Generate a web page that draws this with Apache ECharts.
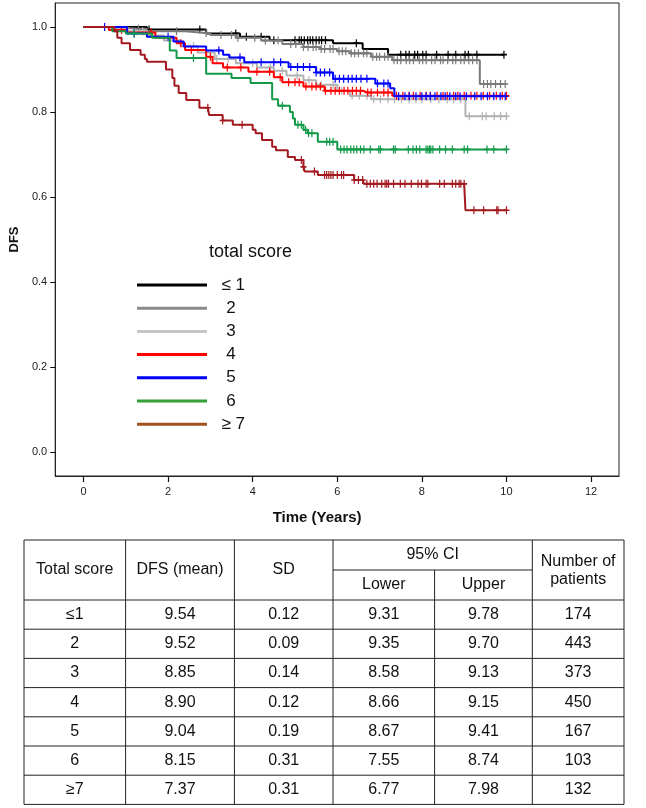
<!DOCTYPE html>
<html><head><meta charset="utf-8">
<script src="https://cdn.jsdelivr.net/npm/echarts@6/dist/echarts.min.js"></script>
<style>html,body{margin:0;padding:0;background:#fff}#c{width:646px;height:808px}</style>
</head><body><div id="c"></div>
<script>
// ---------- DATA ----------
const groupNames = ['≤ 1', '2', '3', '4', '5', '6', '≥ 7'];
const xTickValues = [0, 2, 4, 6, 8, 10, 12];
const yTickValues = [0, 0.2, 0.4, 0.6, 0.8, 1.0];

// Kaplan-Meier steps: [time (years), survival after the drop]
const stepsLe1 = [[0,1],[1.5,0.994],[2.9,0.985],[3.7,0.977],[4.4,0.969],[5.9,0.962],[6.6,0.948],[7.2,0.935]];
const steps2 = [[0,1],[0.6,0.996],[1.5,0.99],[2.4,0.986],[3.0,0.981],[3.6,0.975],[4.2,0.968],[4.7,0.96],[5.2,0.953],[5.6,0.948],[6.0,0.943],[6.3,0.938],[6.8,0.93],[7.3,0.922],[9.37,0.866]];
const steps3 = [[0,1],[0.5,0.996],[1.0,0.99],[1.5,0.98],[1.9,0.968],[2.3,0.955],[2.7,0.94],[3.1,0.925],[3.6,0.915],[4.1,0.905],[4.5,0.897],[4.8,0.886],[5.2,0.875],[5.5,0.864],[6.0,0.85],[6.3,0.838],[6.8,0.83],[9.03,0.79]];
const steps4 = [[0,1],[0.6,0.993],[1.0,0.987],[1.7,0.975],[2.2,0.962],[2.4,0.946],[2.9,0.93],[3.05,0.915],[3.3,0.905],[3.9,0.895],[4.5,0.882],[4.7,0.87],[5.2,0.86],[5.7,0.85],[6.6,0.846],[7.3,0.838]];
const steps5 = [[0,1],[1.03,0.985],[1.5,0.977],[2.13,0.966],[2.37,0.954],[2.9,0.945],[3.3,0.935],[3.45,0.928],[3.8,0.917],[4.85,0.906],[5.5,0.893],[5.9,0.878],[6.9,0.867],[7.25,0.856],[7.35,0.837]];
const steps6 = [[0,1],[0.68,0.99],[1.0,0.985],[1.62,0.975],[2.04,0.945],[2.2,0.927],[2.9,0.89],[3.5,0.88],[3.95,0.868],[4.46,0.83],[4.6,0.815],[4.88,0.8],[4.95,0.785],[5.0,0.77],[5.2,0.758],[5.3,0.75],[5.54,0.73],[6.0,0.712]];
const stepsGe7 = [[0,1],[0.73,0.99],[0.8,0.975],[0.9,0.962],[1.1,0.946],[1.35,0.935],[1.45,0.925],[1.5,0.918],[1.95,0.9],[2.1,0.88],[2.15,0.862],[2.25,0.845],[2.43,0.828],[2.74,0.81],[2.97,0.793],[3.29,0.78],[3.53,0.77],[4.0,0.758],[4.07,0.75],[4.22,0.734],[4.46,0.718],[4.55,0.71],[4.83,0.694],[5.0,0.687],[5.2,0.671],[5.23,0.66],[5.54,0.652],[6.4,0.64],[6.63,0.631],[9.03,0.569]];

// censored observations (time in years)
const censorLe1 = [1.55,2.75,3.6,3.85,4.2,4.5,5.0,5.1,5.15,5.22,5.3,5.36,5.42,5.5,5.57,5.63,5.72,6.45,7.5,7.62,7.7,7.83,7.9,8.02,8.1,8.35,8.62,8.8,9.02,9.1,9.3,9.94];
const censor2 = [1.3,2.2,2.9,3.25,3.5,3.65,4.05,4.3,4.6,4.9,5.02,5.2,5.31,5.43,5.5,5.62,5.7,5.83,5.9,6.04,6.12,6.2,6.33,6.41,6.5,6.62,6.7,6.84,6.93,7.0,7.12,7.2,7.34,7.42,7.5,7.63,7.71,7.8,7.94,8.02,8.1,8.23,8.31,8.44,8.5,8.61,8.73,8.8,8.92,9.0,9.11,9.2,9.3,9.46,9.55,9.63,9.74,9.86,9.97];
const censor3 = [1.05,1.4,2.6,3.15,3.42,4.0,4.42,4.7,5.05,5.33,5.62,5.9,6.1,6.35,6.52,6.7,6.86,7.02,7.2,7.35,7.52,7.7,7.86,8.0,8.21,8.4,8.6,8.75,8.92,9.12,9.43,9.52,9.71,9.86,10.0];
const censor4 = [0.9,1.6,2.3,2.55,3.0,3.4,3.72,4.1,4.4,4.65,4.85,5.0,5.1,5.26,5.4,5.5,5.6,5.72,5.85,5.95,6.05,6.16,6.25,6.36,6.45,6.55,6.72,6.8,6.95,7.1,7.2,7.4,7.55,7.7,7.8,7.96,8.1,8.2,8.36,8.5,8.6,8.75,8.85,9.0,9.16,9.3,9.45,9.6,9.76,9.9,10.0];
const censor5 = [0.5,1.2,2.0,3.2,3.7,4.2,4.5,4.66,4.9,5.06,5.2,5.35,5.5,5.6,5.7,5.82,5.95,6.05,6.15,6.26,6.35,6.45,6.56,6.7,6.95,7.1,7.2,7.45,7.6,7.7,7.86,8.0,8.1,8.2,8.31,8.45,8.55,8.66,8.8,8.9,9.05,9.25,9.4,9.55,9.7,9.85,9.97];
const censor6 = [1.2,2.6,4.7,5.07,5.15,5.25,5.32,5.4,5.75,5.82,5.9,6.08,6.16,6.23,6.32,6.39,6.46,6.55,6.63,6.78,6.98,7.02,7.33,7.37,7.68,7.79,7.87,7.95,8.1,8.14,8.18,8.21,8.26,8.42,8.56,8.72,9.0,9.08,9.54,9.7,10.0];
const censorGe7 = [2.94,3.29,3.75,5.15,5.2,5.46,5.7,5.75,5.8,5.85,5.9,6.0,6.1,6.15,6.4,6.5,6.6,6.7,6.78,6.86,6.94,7.05,7.13,7.17,7.21,7.33,7.49,7.6,7.75,7.91,7.99,8.1,8.14,8.42,8.53,8.72,8.8,8.88,8.92,9.0,9.23,9.46,9.77,9.8,10.0];

const allSteps = [stepsLe1, steps2, steps3, steps4, steps5, steps6, stepsGe7];
const allCensors = [censorLe1, censor2, censor3, censor4, censor5, censor6, censorGe7];

// table
const tableScore = ['≤1', '2', '3', '4', '5', '6', '≥7'];
const tableMean = ['9.54', '9.52', '8.85', '8.90', '9.04', '8.15', '7.37'];
const tableSD = ['0.12', '0.09', '0.14', '0.12', '0.19', '0.31', '0.31'];
const tableLower = ['9.31', '9.35', '8.58', '8.66', '8.67', '7.55', '6.77'];
const tableUpper = ['9.78', '9.70', '9.13', '9.15', '9.41', '8.74', '7.98'];
const tablePatients = ['174', '443', '373', '450', '167', '103', '132'];

// ---------- STYLE ----------
const curveColors = ['#000000', '#7a7a7a', '#b2b2b2', '#ff0000', '#0000ff', '#139a48', '#a3191f'];
const legendColors = ['#000000', '#8a8a8a', '#c6c6c6', '#ff0000', '#0000ff', '#36a03a', '#a0521d'];
const CROSS = 'path://M4,0h2v4h4v2h-4v4h-2v-4h-4v-2h4z';
const FONT = 'Liberation Sans, Arial, sans-serif';

function survivalAt(steps, t) {
  let s = 1;
  for (const [st, sv] of steps) { if (st <= t) s = sv; else break; }
  return s;
}
function buildData(steps, censors) {
  const pts = steps.map(([t, s]) => ({ value: [t, s], symbol: 'none' }));
  censors.forEach(t => pts.push({ value: [t, survivalAt(steps, t)], symbol: CROSS }));
  pts.sort((a, b) => a.value[0] - b.value[0]);
  return pts;
}

const series = groupNames.map((name, i) => ({
  name: name,
  type: 'line',
  step: 'end',
  data: buildData(allSteps[i], allCensors[i]),
  symbolSize: [6, 8],
  lineStyle: { color: curveColors[i], width: 2 },
  itemStyle: { color: curveColors[i], borderWidth: 0 },
  emphasis: { disabled: true },
  silent: true,
  z: 2 + i
}));

// ---------- TABLE GRAPHICS ----------
const tb = { left: 24, right: 624, top: 540, mid: 570, head: 600, rowH: 29.2 };
const colX = [24, 125.6, 234.4, 333, 434.6, 532.3, 624];
const tableBottom = tb.head + tb.rowH * tableScore.length;
const LINE = { stroke: '#222', lineWidth: 1 };
const graphics = [];
function hline(x1, x2, y) { graphics.push({ type: 'line', shape: { x1: x1, y1: y, x2: x2, y2: y }, style: LINE, silent: true }); }
function vline(x, y1, y2) { graphics.push({ type: 'line', shape: { x1: x, y1: y1, x2: x, y2: y2 }, style: LINE, silent: true }); }
function txt(x, y, s) {
  graphics.push({ type: 'text', x: x, y: y, silent: true,
    style: { text: s, fill: '#111', font: '16px ' + FONT, align: 'center', verticalAlign: 'middle' } });
}
hline(tb.left, tb.right, tb.top);
hline(colX[3], colX[5], tb.mid);
for (let r = 0; r <= tableScore.length; r++) hline(tb.left, tb.right, tb.head + r * tb.rowH);
[0, 1, 2, 3, 5, 6].forEach(k => vline(colX[k], tb.top, tableBottom));
vline(colX[4], tb.mid, tableBottom);
const cc = k => (colX[k] + colX[k + 1]) / 2;
txt(cc(0), (tb.top + tb.head) / 2, 'Total score');
txt(cc(1), (tb.top + tb.head) / 2, 'DFS (mean)');
txt(cc(2), (tb.top + tb.head) / 2, 'SD');
txt((colX[3] + colX[5]) / 2, (tb.top + tb.mid) / 2, '95% CI');
txt(cc(3), (tb.mid + tb.head) / 2, 'Lower');
txt(cc(4), (tb.mid + tb.head) / 2, 'Upper');
txt(cc(5), 562, 'Number of');
txt(cc(5), 580, 'patients');
const cols = [tableScore, tableMean, tableSD, tableLower, tableUpper, tablePatients];
for (let r = 0; r < tableScore.length; r++) {
  const yc = tb.head + (r + 0.5) * tb.rowH;
  cols.forEach((col, k) => txt(cc(k), yc, col[r]));
}
// legend title
graphics.push({ type: 'text', x: 209, y: 252, silent: true,
  style: { text: 'total score', fill: '#111', font: '18px ' + FONT, align: 'left', verticalAlign: 'middle' } });

// ---------- CHART ----------
const chart = echarts.init(document.getElementById('c'), null, { renderer: 'canvas' });
chart.setOption({
  animation: false,
  backgroundColor: '#fff',
  grid: { left: 47, right: 27, top: 3, bottom: 332, show: true, borderColor: '#222', borderWidth: 1, backgroundColor: 'transparent' },
  xAxis: {
    type: 'value', min: -0.669, max: 12.66,
    name: 'Time (Years)', nameLocation: 'middle', nameGap: 34,
    nameTextStyle: { fontFamily: FONT, fontSize: 15, fontWeight: 'bold', color: '#111', padding: [0, 40, 0, 0] },
    axisLine: { show: true, onZero: false, lineStyle: { color: '#222', width: 1 } },
    axisTick: { show: true, length: 6, lineStyle: { color: '#111', width: 1.2 }, customValues: xTickValues },
    axisLabel: { customValues: xTickValues, margin: 10, fontFamily: FONT, fontSize: 11, color: '#222' },
    splitLine: { show: false }
  },
  yAxis: {
    type: 'value', min: -0.0565, max: 1.0565,
    name: 'DFS', nameLocation: 'middle', nameGap: 34, nameRotate: 90,
    nameTextStyle: { fontFamily: FONT, fontSize: 13, fontWeight: 'bold', color: '#111' },
    axisLine: { show: true, onZero: false, lineStyle: { color: '#222', width: 1 } },
    axisTick: { show: true, length: 5, lineStyle: { color: '#111', width: 1 }, customValues: yTickValues },
    axisLabel: { customValues: yTickValues, margin: 8, fontFamily: FONT, fontSize: 11, color: '#222',
      formatter: v => v.toFixed(1) },
    splitLine: { show: false }
  },
  legend: {
    orient: 'vertical', left: 132, top: 271,
    itemWidth: 70, itemHeight: 3, itemGap: 5.2, icon: 'rect',
    selectedMode: false,
    textStyle: { fontFamily: FONT, fontSize: 17, lineHeight: 18, color: '#111' },
    formatter: n => (n.charAt(0) === '≤' || n.charAt(0) === '≥') ? '  ' + n : '   ' + n,
    data: groupNames.map((n, i) => ({ name: n, itemStyle: { color: legendColors[i], borderWidth: 0 } }))
  },
  graphic: graphics,
  series: series
});
</script></body></html>
